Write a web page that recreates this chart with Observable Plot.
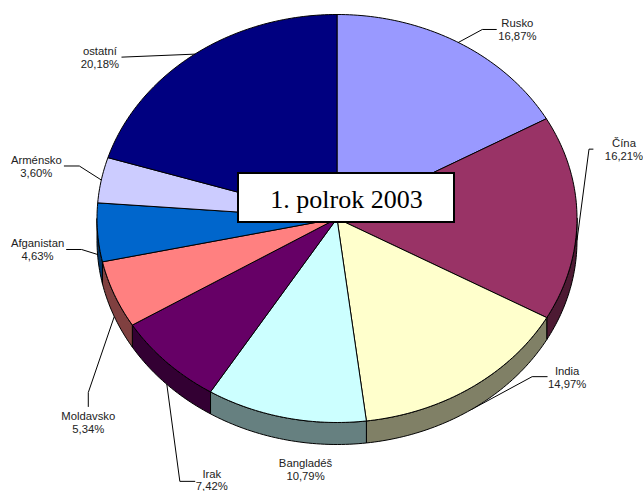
<!DOCTYPE html>
<html>
<head>
<meta charset="utf-8">
<script src="https://cdn.jsdelivr.net/npm/d3@7"></script>
<script src="https://cdn.jsdelivr.net/npm/@observablehq/plot@0.6"></script>
<style>html,body{margin:0;padding:0;background:#fff}svg{display:block}</style>
</head>
<body>
<div id="chart"></div>
<script>
const names = ["Rusko","Čína","India","Bangladéš","Irak","Moldavsko","Afganistan","Arménsko","ostatní"];
const shares = [16.87,16.21,14.97,10.79,7.42,5.34,4.63,3.60,20.18];
const shareLabels = ["16,87%","16,21%","14,97%","10,79%","7,42%","5,34%","4,63%","3,60%","20,18%"];
const topColors = ["#9999FF","#993366","#FFFFCC","#CCFFFF","#660066","#FF8080","#0066CC","#CCCCFF","#000080"];
const sideColors = ["#4D4D80","#4D1A33","#808066","#668080","#330033","#804040","#003366","#666680","#000040"];

// layout of the tilted pie
const W = 643, H = 491, cx = 336.5, cy = 218, rx = 240, ry = 204, depth = 22;
// leader and label offsets from each slice's anchor on the rim: [elbow, end, label]
const labelOffsets = [
  [[24,-13],[38,-13],[59,-13.5]],
  [[12,-91],[16,-91],[47,-90.5]],
  [[61,-33],[76,-33],[96,-32.5]],
  [null,null,[20,30]],
  [[13,97],[28,97],[45,95.5]],
  [[-26,76],[-26,90],[-26,105.5]],
  [[-16,-5],[-31,-5],[-60,-5]],
  [[-22,-14],[-37,-14],[-65,-13.5]],
  [[-73,3],[-73,3],[-95,3]]
];
const titleText = "1. polrok 2003";
const titleBox = {x1:238, x2:454, y1:173, y2:222, tx:346, ty:199};

const total = d3.sum(shares);
const pt = (a, dy = 0) => ({x: cx + rx * Math.sin(a), y: cy - ry * Math.cos(a) + dy});
const arc = (a0, a1, dy = 0) => {
  const n = Math.max(2, Math.ceil((a1 - a0) / (Math.PI / 180)));
  return d3.range(n + 1).map(i => pt(a0 + (a1 - a0) * i / n, dy));
};
let c = 0;
const slices = names.map((name, i) => {
  const a0 = c / total * 2 * Math.PI; c += shares[i];
  const a1 = c / total * 2 * Math.PI;
  return {name, a0, a1, mid: (a0 + a1) / 2, top: topColors[i], side: sideColors[i], label: name + "\n" + shareLabels[i], off: labelOffsets[i]};
});
const close = p => [...p, p[0]];
const topPoly = s => close([{x: cx, y: cy}, ...arc(s.a0, s.a1)]);
const sidePoly = s => {
  const a0 = Math.max(s.a0, Math.PI / 2), a1 = Math.min(s.a1, 1.5 * Math.PI);
  if (a1 <= a0) return null;
  return close([...arc(a0, a1), ...arc(a0, a1, depth).reverse()]);
};
const anchor = s => pt(s.mid, s.mid > 0.45 * Math.PI && s.mid < 1.55 * Math.PI ? depth : 0);
const leaders = slices.filter(s => s.off[0]).map(s => {
  const a = anchor(s);
  return [a, {x: a.x + s.off[0][0], y: a.y + s.off[0][1]}, {x: a.x + s.off[1][0], y: a.y + s.off[1][1]}];
});
const labels = slices.map(s => {
  const a = anchor(s);
  return {x: a.x + s.off[2][0], y: a.y + s.off[2][1], text: s.label};
});

const chart = Plot.plot({
  width: W, height: H,
  marginTop: 0, marginRight: 0, marginBottom: 0, marginLeft: 0,
  x: {domain: [0, W], range: [0, W], axis: null},
  y: {domain: [0, H], range: [0, H], axis: null},
  style: {background: "#fff"},
  marks: [
    ...leaders.map(l => Plot.line(l, {x: "x", y: "y", stroke: "#000", strokeWidth: 1})),
    ...slices.filter(sidePoly).map(s => Plot.line(sidePoly(s), {x: "x", y: "y", fill: s.side, stroke: "#000", strokeWidth: 1})),
    ...slices.map(s => Plot.line(topPoly(s), {x: "x", y: "y", fill: s.top, stroke: "#000", strokeWidth: 1})),
    Plot.text(labels, {x: "x", y: "y", text: "text", fontFamily: "Liberation Sans", fontSize: 11.3, lineHeight: 1.15, fill: "#222", textAnchor: "middle"}),
    Plot.rect([titleBox], {x1: "x1", x2: "x2", y1: "y1", y2: "y2", fill: "#fff", stroke: "#000", strokeWidth: 2}),
    Plot.text([titleBox], {x: "tx", y: "ty", text: () => titleText, fontFamily: "Liberation Serif", fontSize: 26, fill: "#000", textAnchor: "middle"})
  ]
});
document.getElementById("chart").appendChild(chart);
</script>
</body>
</html>
